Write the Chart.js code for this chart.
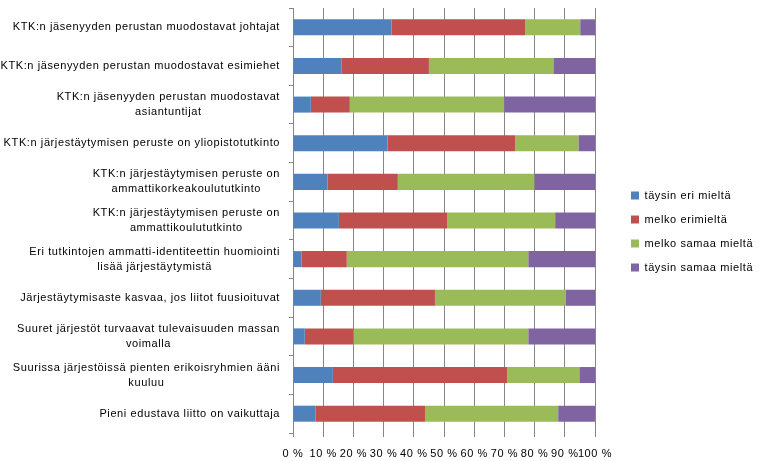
<!DOCTYPE html>
<html>
<head>
<meta charset="utf-8">
<script src="https://cdn.jsdelivr.net/npm/chart.js@4/dist/chart.umd.min.js"></script>
<style>
    html, body { margin: 0; padding: 0; background: #fff; }
    #wrap { width: 759px; height: 461px; }
</style>
</head>
<body>
<div id="wrap"><canvas id="opinionChart"></canvas></div>
<script>
const statements = [
    'KTK:n jäsenyyden perustan muodostavat johtajat',
    'KTK:n jäsenyyden perustan muodostavat esimiehet',
    ['KTK:n jäsenyyden perustan muodostavat', 'asiantuntijat'],
    'KTK:n järjestäytymisen peruste on yliopistotutkinto',
    ['KTK:n järjestäytymisen peruste on', 'ammattikorkeakoulututkinto'],
    ['KTK:n järjestäytymisen peruste on', 'ammattikoulututkinto'],
    ['Eri tutkintojen ammatti-identiteettin huomiointi', 'lisää järjestäytymistä'],
    'Järjestäytymisaste kasvaa, jos liitot fuusioituvat',
    ['Suuret järjestöt turvaavat tulevaisuuden massan', 'voimalla'],
    ['Suurissa järjestöissä pienten erikoisryhmien ääni', 'kuuluu'],
    'Pieni edustava liitto on vaikuttaja'
];

const seriesNames = ['täysin eri mieltä', 'melko erimieltä', 'melko samaa mieltä', 'täysin samaa mieltä'];

// percentages per statement, top to bottom
const taysinEri    = [32.6, 16.0,  5.9, 31.3, 11.4, 15.2,  2.8,  9.2,  3.9, 13.2,  7.4];
const melkoEri     = [44.3, 29.0, 12.9, 42.3, 23.3, 35.8, 15.0, 37.8, 16.1, 57.7, 36.3];
const melkoSamaa   = [18.2, 41.2, 51.1, 20.9, 45.2, 35.8, 60.1, 43.2, 57.9, 23.9, 44.1];
const taysinSamaa  = [ 4.9, 13.8, 30.1,  5.5, 20.1, 13.2, 22.1,  9.8, 22.1,  5.2, 12.2];

const xTicks = [0, 10, 20, 30, 40, 50, 60, 70, 80, 90, 100];

const colors = ['#4F81BD', '#C0504D', '#9BBB59', '#8064A2'];
const gridColor = '#868686';
const fontFamily = '"Liberation Sans", Arial, sans-serif';

// Excel-style category labels: block right aligned, lines centred
const statementLabels = {
    id: 'statementLabels',
    beforeDraw(chart) {
        chart.ctx.letterSpacing = '0.6px';
    },
    afterDraw(chart) {
        const ctx = chart.ctx;
        const yScale = chart.scales.y;
        const labelRight = yScale.right - 13;
        ctx.save();
        ctx.font = '11px ' + fontFamily;
        ctx.letterSpacing = '0.6px';
        ctx.fillStyle = '#000';
        ctx.textAlign = 'center';
        ctx.textBaseline = 'middle';
        statements.forEach((text, i) => {
            const lines = [].concat(text);
            const widest = Math.max(...lines.map(l => ctx.measureText(l).width));
            const cx = labelRight - widest / 2;
            const cy = yScale.getPixelForValue(i);
            lines.forEach((l, j) => {
                ctx.fillText(l, cx, cy + (j - (lines.length - 1) / 2) * 15);
            });
        });
        ctx.restore();
    }
};

// legend sits in the right margin like in the spreadsheet
const legendPlace = {
    id: 'legendPlace',
    beforeInit(chart) {
        const legend = chart.legend;
        const origFit = legend.fit;
        legend.fit = function() {
            origFit.call(this);
            this.width = 164;
        };
    },
    afterLayout(chart) {
        chart.legend.left += 23;
        chart.legend.top -= 3;
        chart.legend.bottom -= 3;
    }
};

function drawOpinionChart() {
    const ctx = document.getElementById('opinionChart').getContext('2d');
    const values = [taysinEri, melkoEri, melkoSamaa, taysinSamaa];

    new Chart(ctx, {
        type: 'bar',
        data: {
            labels: statements,
            datasets: seriesNames.map((name, i) => ({
                label: name,
                data: values[i],
                backgroundColor: colors[i],
                borderWidth: 0,
                barPercentage: 0.415,
                categoryPercentage: 1
            }))
        },
        options: {
            indexAxis: 'y',
            responsive: true,
            maintainAspectRatio: false,
            animation: false,
            layout: { padding: { top: 8, left: 0, right: 0, bottom: 0 } },
            scales: {
                x: {
                    stacked: true,
                    min: 0,
                    max: 100,
                    afterBuildTicks: scale => { scale.ticks = xTicks.map(v => ({ value: v })); },
                    afterFit: scale => { scale.height = 28; },
                    ticks: {
                        callback: v => v + ' %',
                        font: { family: fontFamily, size: 11 },
                        color: '#000',
                        padding: 10,
                        maxRotation: 0,
                        autoSkip: false
                    },
                    grid: { color: gridColor, lineWidth: 1, tickLength: 4 },
                    border: { display: false }
                },
                y: {
                    stacked: true,
                    afterFit: scale => { scale.width = 293; },
                    ticks: { display: false },
                    grid: { offset: true, drawOnChartArea: false, drawTicks: true, tickLength: 4, color: gridColor },
                    border: { display: true, color: gridColor }
                }
            },
            plugins: {
                legend: {
                    position: 'right',
                    labels: {
                        boxWidth: 8,
                        boxHeight: 8,
                        padding: 13,
                        color: '#000',
                        font: { family: fontFamily, size: 11 }
                    }
                },
                tooltip: { enabled: false }
            }
        },
        plugins: [statementLabels, legendPlace]
    });
}

document.addEventListener('DOMContentLoaded', drawOpinionChart);
</script>
</body>
</html>
